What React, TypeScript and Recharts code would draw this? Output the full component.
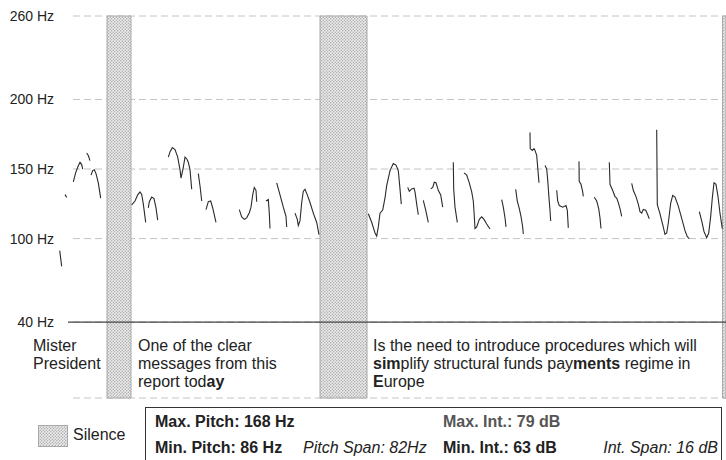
import React from "react";
import {
  LineChart,
  Line,
  XAxis,
  YAxis,
  CartesianGrid,
  ReferenceArea,
  ReferenceLine,
} from "recharts";

// pitch contours, [time, Hz] per voiced stretch
const phraseOne = [
  [[2.7, 91.3], [4.7, 80]],
  [[8, 131.6], [9.7, 129.6]],
  [[16.3, 140.8], [18.7, 147.4], [21.3, 152.4], [23, 154.9], [24.7, 153.2], [25.7, 150]],
  [[29.7, 161.5], [31.3, 159.7], [33, 156]],
  [[34, 145.6], [35.7, 148.9], [37.3, 149.5], [39, 146.7], [41.3, 140.1], [43.7, 129.1]],
];

const phraseTwo = [
  [[74.7, 124.3], [78, 127], [80.7, 131.4], [83, 133.6], [84.7, 131.8], [86.3, 124.9], [88.7, 111.6]],
  [[91.3, 122.1], [92.3, 126.5], [94.7, 129.8], [97, 128.7], [99, 122.1], [100.7, 113.3]],
  [
    [111.3, 158.6], [113, 162.3], [115.3, 165.4], [118, 164], [120.7, 158.6], [123, 149.6], [124, 143.4],
    [126.3, 151.2], [128, 158.6], [129.7, 157.4], [131.3, 154.9], [133, 149.6], [134.7, 135.5],
  ],
  [[141.3, 146.7], [143, 138], [144.7, 127]],
  [[149, 120.8], [151.3, 126.5], [153.7, 127], [155.7, 122], [159, 111.6]],
  [
    [182.3, 120.8], [184.7, 115.6], [187.3, 113.8], [189.7, 114.9], [192.3, 118.6], [194, 122.6],
    [195.7, 131.4], [197.3, 136.8], [199, 134.7], [199.7, 126.5],
  ],
  [[209, 127], [211.3, 128.1], [212.3, 118.3], [213, 107.2]],
  [[219.7, 140.1], [223, 131.4], [226.3, 122.6], [229, 116], [229.7, 108.3]],
  [
    [238, 118.3], [240.3, 113.8], [241.3, 109.4], [243, 112.7], [244.7, 125.9], [246.3, 134.1],
    [248, 135.4], [250.3, 131.4], [253, 125.9], [256.3, 118.3], [259.7, 111.6], [262, 102.8],
  ],
];

const phraseThree = [
  [
    [311.3, 117.8], [314.7, 111.7], [318, 104], [319.7, 101.8], [321.3, 108.4], [323, 118.3],
    [325.7, 120.5], [328, 129.2], [329.7, 138], [333, 148.9], [336.3, 154], [339, 152.8],
    [341.3, 148.9], [343, 135.7], [344.3, 124.8],
  ],
  [[350.7, 136.8], [352.3, 134], [354.7, 135.7], [357, 136.2], [358, 133.6], [359.7, 124.8], [361.3, 117.1]],
  [[366.3, 127.4], [368.7, 120.4], [371.3, 111.6]],
  [[373.7, 135.7], [375.7, 136.8], [377.3, 140.5], [379, 140.1], [381.3, 134.7], [383.7, 131.4], [385.7, 122.6]],
  [[396.3, 154.9], [396.7, 135.7], [398, 122.6], [400.3, 111.7]],
  [
    [407, 147.2], [409.7, 145.6], [412.3, 140.1], [414.7, 133.6], [416.3, 127], [417.3, 116], [418, 107.2],
    [419.7, 108.3], [422.3, 113.8], [424.7, 115.6], [427, 113.8], [429.7, 110.5], [433, 106.9],
  ],
  [[444.7, 128], [446.3, 122.6], [448, 115], [449, 108.4]],
  [[458.7, 135.4], [460.3, 127], [462.3, 121.5], [464, 116], [465.7, 108.3], [466.3, 103.3]],
  [[473, 176.3], [473.2, 164.7], [475.3, 163.4], [477, 164.7], [478, 163.4], [479.7, 159.8], [480.7, 151.2], [482, 140.1]],
  [[488, 152.5], [489.7, 150], [490.7, 142.2], [492, 129.1], [493, 120.4], [493.7, 112.7]],
  [[499.7, 134.7], [500.7, 127], [502.3, 123.7], [505.7, 122.6], [509, 123.7], [510.3, 120.4], [511.3, 107.7]],
  [[522, 155.5], [522.2, 141.2], [524, 139], [525.7, 133.6], [526.3, 130.3]],
  [[537.3, 129.7], [539.7, 127], [541.7, 121.5], [543, 114.9], [544, 107.2]],
  [[552.3, 154.9], [553, 139], [555.7, 134.6], [558, 130.2], [559.7, 129.1], [561.3, 125.8], [563, 121.5], [564.7, 116]],
  [
    [574.7, 139.6], [576.3, 134.7], [579, 130.2], [581.3, 124.8], [583, 119.3], [584.7, 118.3],
    [586.3, 120.9], [588.7, 120.4], [590.7, 117.1], [592.3, 114.3],
  ],
  [
    [599.7, 178.2], [600.3, 124.3], [603, 117.8], [605.7, 110.1], [608, 103.1], [609.7, 104], [611.3, 111.2],
    [613.7, 125.5], [615.7, 131], [618, 129.8], [621.3, 123.3], [624.7, 114.5], [628, 105.7], [630.3, 101.3],
    [632.3, 100],
  ],
  [
    [642.3, 119.3], [644.7, 112.7], [647, 105.1], [649.7, 100.7], [651.7, 104], [653.7, 116], [655.3, 129.1],
    [657, 140.1], [659, 139], [661, 130.2], [663, 118.2], [665.3, 107.2],
  ],
];

// silent stretches, [start, end]
const silences = [
  [50, 74],
  [263, 310],
  [665.5, 669],
];

const hzTicks = [40, 100, 150, 200, 260];

const transcript = [
  ["Mister", "President"],
  ["One of the clear", "messages from this", "report tod|ay|"],
  ["Is the need to introduce procedures which will", "|sim|plify structural funds pay|ments| regime in", "|E|urope"],
];

const stats = {
  maxPitch: 168,
  minPitch: 86,
  pitchSpan: 82,
  maxInt: 79,
  minInt: 63,
  intSpan: 16,
};

const data = [...phraseOne, ...phraseTwo, ...phraseThree].flatMap((seg) => [
  ...seg.map(([t, hz]) => ({ t, hz })),
  { t: seg[seg.length - 1][0], hz: null },
]);

const FONT = "'Liberation Sans', Arial, sans-serif";
const TEXT = "#222";

// text with |bold| parts
function Marked({ text }: { text: string }) {
  const parts = text.split("|");
  return (
    <>
      {parts.map((p, i) => (i % 2 ? <b key={i}>{p}</b> : <span key={i}>{p}</span>))}
    </>
  );
}

function Stipple({ id }: { id: string }) {
  return (
    <pattern id={id} width="3" height="3" patternUnits="userSpaceOnUse">
      <rect width="3" height="3" fill="#ececec" />
      <circle cx="0.75" cy="0.75" r="0.7" fill="#a2a2a2" />
      <circle cx="2.25" cy="2.25" r="0.7" fill="#a2a2a2" />
    </pattern>
  );
}

const textLeft = [33, 138, 373];

const cell: React.CSSProperties = { position: "absolute", whiteSpace: "nowrap" };

export default function App() {
  return (
    <div
      style={{
        position: "absolute",
        left: 0,
        top: 0,
        width: 726,
        height: 460,
        overflow: "hidden",
        background: "#fff",
        fontFamily: FONT,
        color: TEXT,
      }}
    >
      <LineChart width={726} height={460} data={data} margin={{ top: 16, right: 0, bottom: 62, left: 0 }}>
        <defs>
          <Stipple id="silence" />
        </defs>
        <CartesianGrid vertical={false} x={73} width={653} stroke="#c4c4c4" strokeDasharray="7 4" />
        <XAxis dataKey="t" type="number" domain={[0, 669]} hide allowDataOverflow />
        <YAxis
          type="number"
          domain={[-14.6, 260]}
          ticks={hzTicks}
          allowDataOverflow
          width={57}
          axisLine={false}
          tickLine={false}
          tickSize={0}
          tickMargin={3}
          tickFormatter={(v) => `${v} Hz`}
          tick={{ fill: TEXT, fontSize: 14 }}
        />
        {silences.map(([a, b], i) => (
          <ReferenceArea key={i} x1={a} x2={b} fill="url(#silence)" fillOpacity={1} stroke="#a8a8a8" strokeWidth={1} />
        ))}
        <ReferenceLine
          segment={[
            { x: 11, y: 40 },
            { x: 669, y: 40 },
          ]}
          stroke="#444"
          strokeWidth={1.2}
          ifOverflow="visible"
        />
        <Line
          dataKey="hz"
          type="linear"
          stroke="#2a2a2a"
          strokeWidth={1.1}
          dot={false}
          activeDot={false}
          connectNulls={false}
          isAnimationActive={false}
        />
      </LineChart>

      {transcript.map((lines, i) => (
        <div
          key={i}
          style={{ ...cell, left: textLeft[i], top: 337, fontSize: 16, lineHeight: "18px" }}
        >
          {lines.map((l, j) => (
            <div key={j}>
              <Marked text={l} />
            </div>
          ))}
        </div>
      ))}

      <svg style={{ position: "absolute", left: 38, top: 425 }} width={30} height={22}>
        <defs>
          <Stipple id="silenceKey" />
        </defs>
        <rect x={0.5} y={0.5} width={29} height={21} fill="url(#silenceKey)" stroke="#a8a8a8" />
      </svg>
      <div style={{ ...cell, left: 73, top: 426, fontSize: 16 }}>Silence</div>

      <div
        style={{
          position: "absolute",
          left: 145,
          top: 407,
          width: 575,
          height: 70,
          border: "1px solid #333",
          fontSize: 16,
        }}
      >
        <div style={{ ...cell, left: 9, top: 5, fontWeight: "bold" }}>Max. Pitch: {stats.maxPitch} Hz</div>
        <div style={{ ...cell, left: 297, top: 5, fontWeight: "bold", color: "#555" }}>
          Max. Int.: {stats.maxInt} dB
        </div>
        <div style={{ ...cell, left: 9, top: 31, fontWeight: "bold" }}>Min. Pitch: {stats.minPitch} Hz</div>
        <div style={{ ...cell, left: 157, top: 31, fontStyle: "italic" }}>Pitch Span: {stats.pitchSpan}Hz</div>
        <div style={{ ...cell, left: 297, top: 31, fontWeight: "bold" }}>Min. Int.: {stats.minInt} dB</div>
        <div style={{ ...cell, right: 3, top: 31, fontStyle: "italic" }}>Int. Span: {stats.intSpan} dB</div>
      </div>
    </div>
  );
}
